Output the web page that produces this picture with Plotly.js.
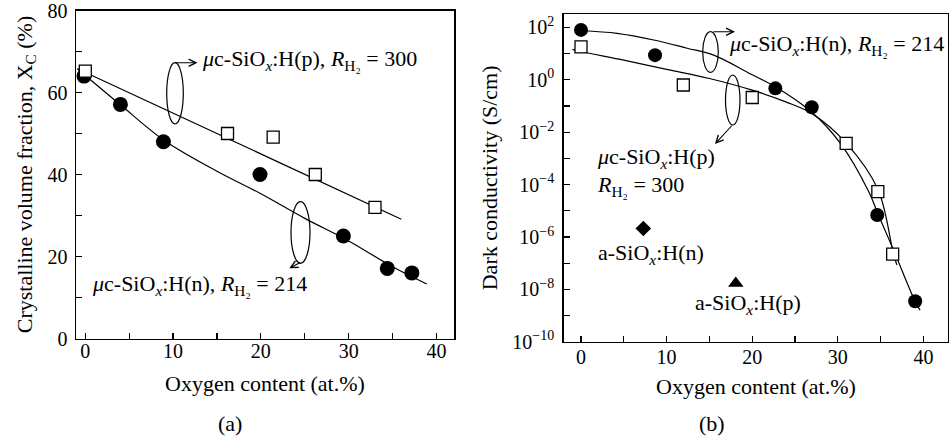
<!DOCTYPE html>
<html>
<head>
<meta charset="utf-8">
<script src="https://cdn.plot.ly/plotly-3.0.1.min.js"></script>
<style>html,body{margin:0;padding:0;background:#fff;}#chart{width:949px;height:443px;}</style>
</head>
<body>
<div id="chart"></div>
<script>
// ---------- Panel (a): crystalline volume fraction ----------
const xcP_x = [0, 16.2, 21.4, 26.2, 33.0];
const xcP_y = [65.2, 50.0, 49.1, 40.0, 32.0];
const xcN_x = [-0.15, 4.0, 8.9, 19.9, 29.4, 34.4, 37.2];
const xcN_y = [64.0, 57.1, 48.0, 40.0, 25.0, 17.1, 16.0];
const xcP_fit_x = [-0.9, 36.0];
const xcP_fit_y = [65.8, 29.1];
const xcN_fit_x = [-0.9, 4, 9, 15, 20, 25, 30, 35, 38.9];
const xcN_fit_y = [65.8, 57.0, 48.3, 40.8, 35.3, 29.3, 23.8, 17.5, 13.3];

// ---------- Panel (b): dark conductivity ----------
const sN_x = [0, 8.65, 22.7, 26.95, 34.6, 39.03];
const sN_y = [80, 8.7, 0.47, 0.089, 6.9e-6, 3.5e-9];
const sP_x = [0, 11.95, 20.0, 30.97, 34.67, 36.4];
const sP_y = [18, 0.63, 0.21, 3.7e-3, 5.4e-5, 2.2e-7];
const sN_fit_x = [0, 4.2, 8.5, 12.4, 15.5, 19.75, 22.7, 27, 30.3, 33.6, 34.7, 36.5, 39, 39.6];
const sN_fit_y = [76, 59, 33, 16, 8.7, 1.7, 0.54, 0.056, 3.7e-3, 5.4e-5, 7.4e-6, 3.2e-7, 3.6e-9, 1.6e-9];
const sP_fit_x = [-1, 0, 5, 10, 15, 20, 24, 27, 31, 34.7, 36.5, 36.9];
const sP_fit_y = [14.5, 12, 5.6, 2.5, 1.12, 0.4, 0.14, 0.05, 3.7e-3, 6.3e-5, 2.2e-7, 8.5e-8];
const aN_x = [7.28]; const aN_y = [2.1e-6];
const aP_x = [18.08]; const aP_y = [1.7e-8];

// ticks
const xTickVals = [0, 10, 20, 30, 40];
const xTickText = ['0', '10', '20', '30', '40'];
const xMinorVals = [5, 15, 25, 35];
const yTickValsA = [0, 20, 40, 60, 80];
const yTickTextA = ['0', '20', '40', '60', '80'];
const yMinorValsA = [10, 30, 50, 70];
const yTickValsB = [1e-10, 1e-8, 1e-6, 1e-4, 1e-2, 1, 100];
const yTickTextB = ['10<sup>−10</sup>', '10<sup>−8</sup>', '10<sup>−6</sup>', '10<sup>−4</sup>', '10<sup>−2</sup>', '10<sup>0</sup>', '10<sup>2</sup>'];
const yMinorValsB = [1e-9, 1e-7, 1e-5, 1e-3, 1e-1, 10];

const W = 949, H = 443;
const px = v => v / W;
const py = v => 1 - v / H;
const FONT = '"Liberation Serif", "Times New Roman", serif';
const FS = 22;
const TFS = 20;

const lineStyle = {color: '#000', width: 1.2, shape: 'spline', smoothing: 1};
const traces = [
  {x: xcP_fit_x, y: xcP_fit_y, mode: 'lines', line: {color: '#000', width: 1.2}, xaxis: 'x', yaxis: 'y', hoverinfo: 'skip'},
  {x: xcN_fit_x, y: xcN_fit_y, mode: 'lines', line: lineStyle, xaxis: 'x', yaxis: 'y', hoverinfo: 'skip'},
  {x: xcN_x, y: xcN_y, mode: 'markers', marker: {symbol: 'circle', size: 15, color: '#000'}, xaxis: 'x', yaxis: 'y'},
  {x: xcP_x, y: xcP_y, mode: 'markers', marker: {symbol: 'square', size: 12, color: '#fff', line: {color: '#000', width: 1.3}}, xaxis: 'x', yaxis: 'y'},

  {x: sN_fit_x, y: sN_fit_y, mode: 'lines', line: lineStyle, xaxis: 'x2', yaxis: 'y2', hoverinfo: 'skip'},
  {x: sP_fit_x, y: sP_fit_y, mode: 'lines', line: lineStyle, xaxis: 'x2', yaxis: 'y2', hoverinfo: 'skip'},
  {x: sN_x, y: sN_y, mode: 'markers', marker: {symbol: 'circle', size: 14, color: '#000'}, xaxis: 'x2', yaxis: 'y2'},
  {x: sP_x, y: sP_y, mode: 'markers', marker: {symbol: 'square', size: 12, color: '#fff', line: {color: '#000', width: 1.3}}, xaxis: 'x2', yaxis: 'y2'},
  {x: aN_x, y: aN_y, mode: 'markers', marker: {symbol: 'diamond', size: 12, color: '#000'}, xaxis: 'x2', yaxis: 'y2'},
  {x: aP_x, y: aP_y, mode: 'markers', marker: {symbol: 'triangle-up', size: 13.5, color: '#000'}, xaxis: 'x2', yaxis: 'y2'}
];

const axisBase = {
  showline: true, linecolor: '#000', linewidth: 1.5, mirror: true,
  ticks: 'inside', ticklen: 6, tickwidth: 1.2, tickcolor: '#000',
  showgrid: false, zeroline: false, tickmode: 'array',
  ticklabeloverflow: 'allow',
  tickfont: {family: FONT, size: TFS, color: '#000'}
};
const minorOf = vals => ({tickmode: 'array', tickvals: vals, ticks: 'inside', ticklen: 6, tickwidth: 1.2, tickcolor: '#000', showgrid: false});

const layout = {
  width: W, height: H,
  margin: {l: 0, r: 0, t: 0, b: 0},
  paper_bgcolor: '#fff', plot_bgcolor: '#fff',
  showlegend: false,
  font: {family: FONT, size: FS, color: '#000'},
  xaxis: Object.assign({}, axisBase, {
    domain: [px(76), px(454)], range: [-1.06, 42], anchor: 'y',
    tickvals: xTickVals, ticktext: xTickText, minor: minorOf(xMinorVals), ticklabelstandoff: -6,
    title: {text: 'Oxygen content (at.%)', font: {family: FONT, size: FS}, standoff: 14}
  }),
  yaxis: Object.assign({}, axisBase, {
    domain: [1 - 338.5 / H, 1 - 10.5 / H], range: [0, 80], anchor: 'x',
    tickvals: yTickValsA, ticktext: yTickTextA, minor: minorOf(yMinorValsA), ticklabelstandoff: 3,
    title: {text: 'Crystalline volume fraction, X<sub>C</sub> (%)', font: {family: FONT, size: FS}, standoff: 9}
  }),
  xaxis2: Object.assign({}, axisBase, {
    domain: [px(563.7), px(948.3)], range: [-2.02, 42.9], anchor: 'y2',
    tickvals: xTickVals, ticktext: xTickText, minor: minorOf(xMinorVals), ticklabelstandoff: -3,
    title: {text: 'Oxygen content (at.%)', font: {family: FONT, size: FS}, standoff: 11}
  }),
  yaxis2: Object.assign({}, axisBase, {
    domain: [1 - 341.7 / H, 1 - 14 / H], type: 'log', range: [-10, 2.51], anchor: 'x2',
    tickvals: yTickValsB, ticktext: yTickTextB, minor: minorOf(yMinorValsB), ticklabelstandoff: 4,
    title: {text: 'Dark conductivity (S/cm)', font: {family: FONT, size: FS}, standoff: 8}
  }),
  shapes: [
    {type: 'circle', xref: 'paper', yref: 'paper', x0: px(166.7), x1: px(183.3), y0: py(124), y1: py(62.7), line: {color: '#000', width: 1.2}},
    {type: 'circle', xref: 'paper', yref: 'paper', x0: px(291), x1: px(310), y0: py(263.3), y1: py(201.7), line: {color: '#000', width: 1.2}},
    {type: 'circle', xref: 'paper', yref: 'paper', x0: px(702.7), x1: px(718.3), y0: py(72.3), y1: py(31.7), line: {color: '#000', width: 1.2}},
    {type: 'circle', xref: 'paper', yref: 'paper', x0: px(725.5), x1: px(740), y0: py(125), y1: py(75), line: {color: '#000', width: 1.2}}
  ],
  annotations: [
    // arrows
    {xref: 'paper', yref: 'paper', x: px(197.5), y: py(62.7), ax: -24, ay: 0, text: '', showarrow: true, arrowhead: 5, arrowsize: 1.3, arrowwidth: 1.1, arrowcolor: '#000', standoff: 0},
    {xref: 'paper', yref: 'paper', x: px(289.3), y: py(268.3), ax: 12.4, ay: -6.6, text: '', showarrow: true, arrowhead: 5, arrowsize: 1.3, arrowwidth: 1.1, arrowcolor: '#000', standoff: 0},
    {xref: 'paper', yref: 'paper', x: px(735), y: py(31.7), ax: -23, ay: 0, text: '', showarrow: true, arrowhead: 5, arrowsize: 1.3, arrowwidth: 1.1, arrowcolor: '#000', standoff: 0},
    {xref: 'paper', yref: 'paper', x: px(715), y: py(144), ax: 18.3, ay: -20, text: '', showarrow: true, arrowhead: 5, arrowsize: 1.3, arrowwidth: 1.1, arrowcolor: '#000', standoff: 0},
    // labels
    {xref: 'paper', yref: 'paper', x: px(200), y: py(60), xanchor: 'left', yanchor: 'middle', showarrow: false,
     text: '<i>μ</i>c-SiO<sub><i>x</i></sub>:H(p), <i>R</i><sub>H₂</sub> = 300'},
    {xref: 'paper', yref: 'paper', x: px(90), y: py(285), xanchor: 'left', yanchor: 'middle', showarrow: false,
     text: '<i>μ</i>c-SiO<sub><i>x</i></sub>:H(n), <i>R</i><sub>H₂</sub> = 214'},
    {xref: 'paper', yref: 'paper', x: px(727), y: py(45), xanchor: 'left', yanchor: 'middle', showarrow: false,
     text: '<i>μ</i>c-SiO<sub><i>x</i></sub>:H(n), <i>R</i><sub>H₂</sub> = 214'},
    {xref: 'paper', yref: 'paper', x: px(595), y: py(158), xanchor: 'left', yanchor: 'middle', showarrow: false,
     text: '<i>μ</i>c-SiO<sub><i>x</i></sub>:H(p)'},
    {xref: 'paper', yref: 'paper', x: px(595), y: py(186), xanchor: 'left', yanchor: 'middle', showarrow: false,
     text: '<i>R</i><sub>H₂</sub> = 300'},
    {xref: 'paper', yref: 'paper', x: px(596), y: py(254), xanchor: 'left', yanchor: 'middle', showarrow: false,
     text: 'a-SiO<sub><i>x</i></sub>:H(n)'},
    {xref: 'paper', yref: 'paper', x: px(693), y: py(304), xanchor: 'left', yanchor: 'middle', showarrow: false,
     text: 'a-SiO<sub><i>x</i></sub>:H(p)'},
    {xref: 'paper', yref: 'paper', x: px(230), y: py(423), xanchor: 'center', yanchor: 'middle', showarrow: false, text: '(a)'},
    {xref: 'paper', yref: 'paper', x: px(712), y: py(423), xanchor: 'center', yanchor: 'middle', showarrow: false, text: '(b)'}
  ]
};

Plotly.newPlot('chart', traces, layout, {displayModeBar: false, staticPlot: true});
</script>
</body>
</html>
